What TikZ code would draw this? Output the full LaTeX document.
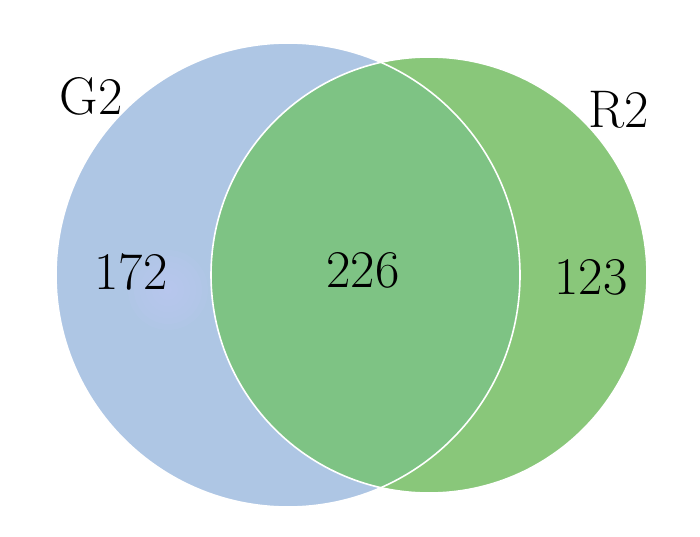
\documentclass[tikz,border=0pt]{standalone}
\usepackage{tikz}

\definecolor{setblue}{RGB}{174,198,228}
\definecolor{setgreen}{RGB}{137,199,122}
\definecolor{bothgreen}{RGB}{126,195,132}
\definecolor{glowblue}{RGB}{196,200,250}

\tikzset{
    setlabel/.style={font=\fontsize{53}{60}\selectfont, inner sep=0pt},
    setedge/.style={draw=white, line width=1.6pt}
}

\begin{document}
\begin{tikzpicture}[x=1pt, y=-1pt]
            \useasboundingbox[fill=white] (0, 0) rectangle (700, 537);

            % the two sets
            \fill[setblue] (288, 275) circle (232);
            \foreach \r in {40, 34, ..., 4}
                \fill[glowblue, opacity=0.1] (168, 290) circle (\r);
            \fill[setgreen] (429, 275) circle (218);
            \begin{scope}
                \clip (288, 275) circle (232);
                \fill[bothgreen] (429, 275) circle (218);
            \end{scope}
            \draw[setedge] (288, 275) circle (232);
            \draw[setedge] (429, 275) circle (218);

            % names and counts
            \node[setlabel] (g2) at (91, 96) {G2};
            \node[setlabel] (r2) at (619, 110) {R2};
            \node[setlabel] (onlyg) at (131, 272) {172};
            \node[setlabel] (both) at (363, 270) {226};
            \node[setlabel] (onlyr) at (591, 277) {123};
        \end{tikzpicture}
\end{document}
